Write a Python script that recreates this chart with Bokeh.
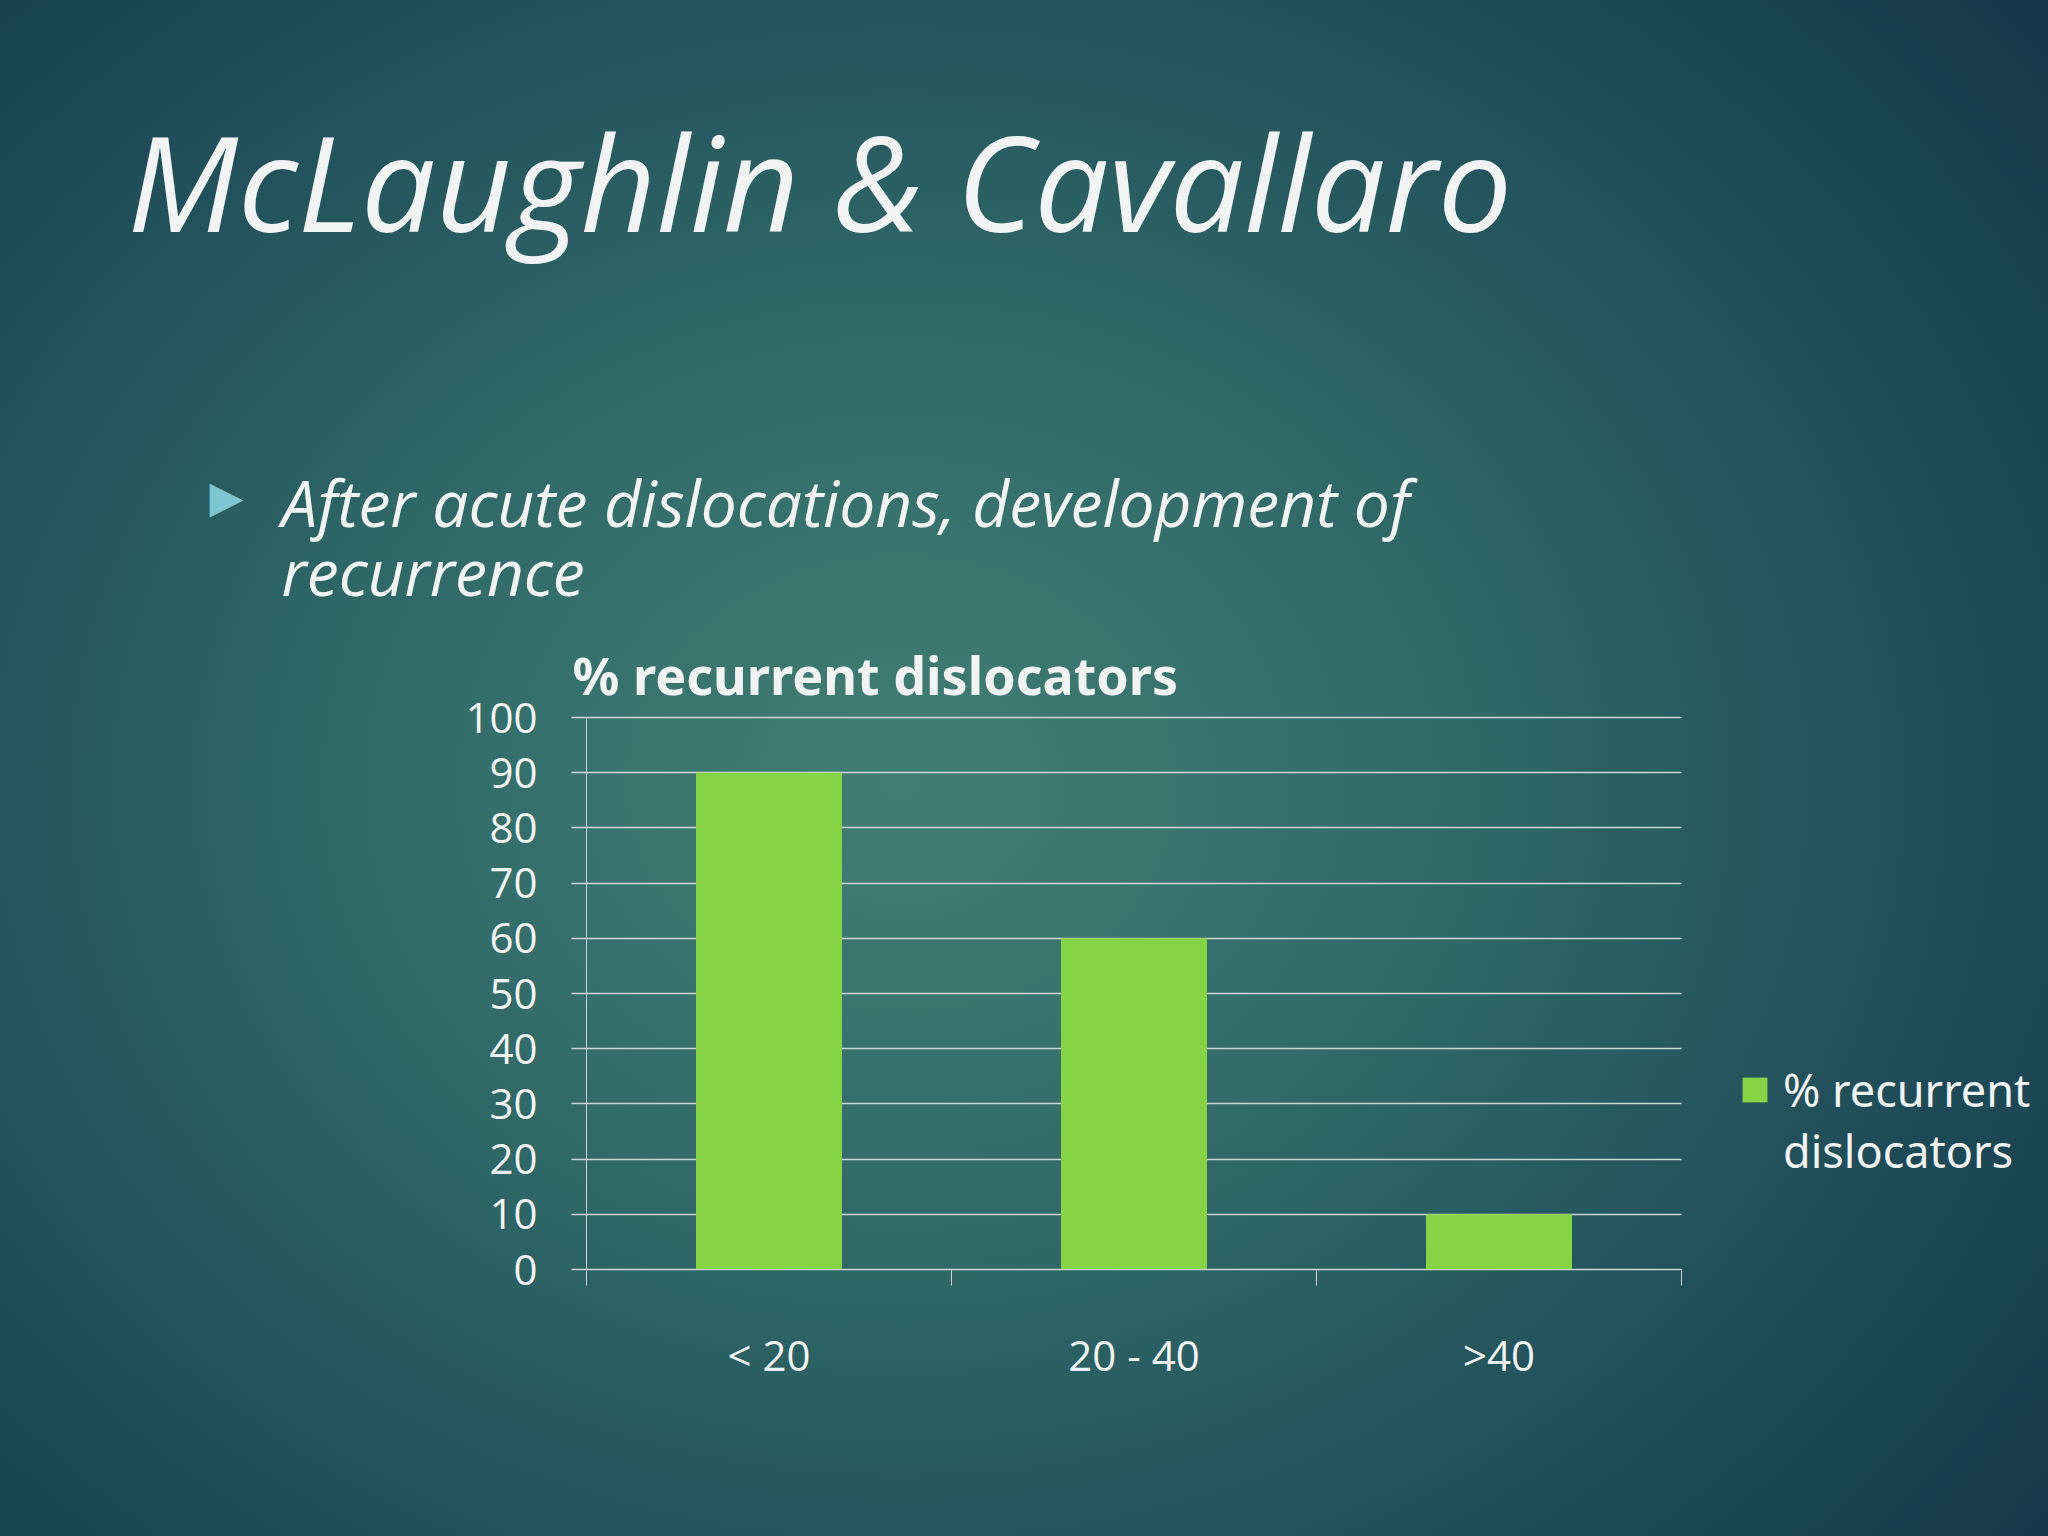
from bokeh.plotting import figure
from bokeh.models import (Range1d, FixedTicker, SingleIntervalTicker, Label,
                          Legend, LegendItem)
from bokeh.embed import file_html
from bokeh.resources import INLINE

# chart data
age_groups = ["< 20", "20 - 40", ">40"]
recurrent_pct = [90, 60, 10]
legend_lines = ["% recurrent", "dislocators"]
y_ticks_step = 10
y_max = 100

slide_title = "McLaughlin & Cavallaro"
bullet_lines = ["After acute dislocations, development of", "recurrence"]
chart_title = "% recurrent dislocators"

TEXT = "#f2f4f4"
GRID = "#cdd6d6"
BAR = "#86d445"

W, H = 2048, 1536
# frame covers the page except a strip left/bottom kept for the axis panels
FRAME_L, FRAME_B = 126, 1396
# where the chart's plot area sits on the page
CHART_L, CHART_R, CHART_T, CHART_B = 586, 1681, 717, 1269

px_cat = (CHART_R - CHART_L) / len(age_groups)
px_val = (CHART_B - CHART_T) / y_max


def sx(px):
    return px - FRAME_L


def sy(py):
    return FRAME_B - py


def text_label(x, baseline, text, size, **kw):
    # place a text by its baseline on the page (px from top-left)
    return Label(x=sx(x), y=sy(baseline - 0.41 * size), x_units="screen",
                 y_units="screen", text=text, text_color=TEXT,
                 text_font_size=f"{size}px", text_baseline="alphabetic", **kw)


p = figure(width=W, height=H, output_backend="svg", toolbar_location=None,
           x_range=Range1d(-(CHART_L - FRAME_L) / px_cat,
                           len(age_groups) + (W - CHART_R) / px_cat),
           y_range=Range1d(-(FRAME_B - CHART_B) / px_val, y_max + CHART_T / px_val),
           min_border_left=FRAME_L, min_border_right=0,
           min_border_top=0, min_border_bottom=H - FRAME_B)
p.title = None
p.background_fill_alpha = 0
p.border_fill_alpha = 0
p.outline_line_color = None
p.grid.visible = False
p.styles = {"background": "radial-gradient(ellipse 72% 80% at 44% 51%, "
                          "#427f73 0%, #2f6767 40%, #1e4a57 75%, #15394a 100%)"}

# bars: one per age group, centred in its slot
xs = [i + 0.5 for i in range(len(age_groups))]
bars = p.vbar(x=xs, top=recurrent_pct, width=0.4, bottom=0,
              fill_color=BAR, line_color=None)

# y axis, its ticks run across the plot area as gridlines (behind the bars)
p.yaxis.fixed_location = 0
p.yaxis.bounds = (0, y_max)
p.yaxis.level = "underlay"
p.yaxis.ticker = SingleIntervalTicker(interval=y_ticks_step)
p.yaxis.axis_line_color = GRID
p.yaxis.major_tick_line_color = GRID
p.yaxis.major_tick_line_width = 1.5
p.yaxis.major_tick_out = 15
p.yaxis.major_tick_in = int(CHART_R - CHART_L)
p.yaxis.minor_tick_line_color = None
p.yaxis.major_label_standoff = 34
p.yaxis.major_label_text_color = TEXT
p.yaxis.major_label_text_font = "Open Sans"
p.yaxis.major_label_text_font_size = "42px"

# x axis: labels at slot centres, ticks at slot boundaries
p.xaxis.fixed_location = 0
p.xaxis.bounds = (0, len(age_groups))
p.xaxis.ticker = FixedTicker(ticks=xs, minor_ticks=list(range(len(age_groups) + 1)))
p.xaxis.major_label_overrides = {x: lab for x, lab in zip(xs, age_groups)}
p.xaxis.axis_line_color = GRID
p.xaxis.major_tick_line_color = None
p.xaxis.major_tick_out = 0
p.xaxis.minor_tick_line_color = GRID
p.xaxis.minor_tick_out = 16
p.xaxis.minor_tick_in = 0
p.xaxis.major_label_standoff = 40
p.xaxis.major_label_text_color = TEXT
p.xaxis.major_label_text_font = "Open Sans"
p.xaxis.major_label_text_font_size = "42px"

legend = Legend(items=[LegendItem(label=legend_lines[0], renderers=[bars]),
                       LegendItem(label=legend_lines[1], renderers=[])],
                location=(sx(1739), sy(1181)), background_fill_alpha=0,
                border_line_color=None, padding=0, margin=0, spacing=0,
                glyph_width=31, glyph_height=31, label_standoff=13,
                label_height=61, label_text_color=TEXT,
                label_text_font="Noto Sans", label_text_font_size="45px")
p.add_layout(legend)

# slide texts
p.add_layout(text_label(127, 235, slide_title, 132, text_font="Open Sans",
                        text_font_style="italic"))
p.add_layout(Label(x=sx(226), y=sy(496), x_units="screen", y_units="screen",
                   text="\u25b6", text_color="#7ec6d1", text_font="DejaVu Sans",
                   text_font_size="44px", text_align="center", text_baseline="middle"))
for i, line in enumerate(bullet_lines):
    p.add_layout(text_label(281, 528 + 69 * i, line, 64, text_font="Open Sans",
                            text_font_style="italic"))
p.add_layout(text_label(572, 695, chart_title, 52, text_font="Noto Sans",
                        text_font_style="bold"))

open("out.html", "w").write(file_html(p, INLINE))
